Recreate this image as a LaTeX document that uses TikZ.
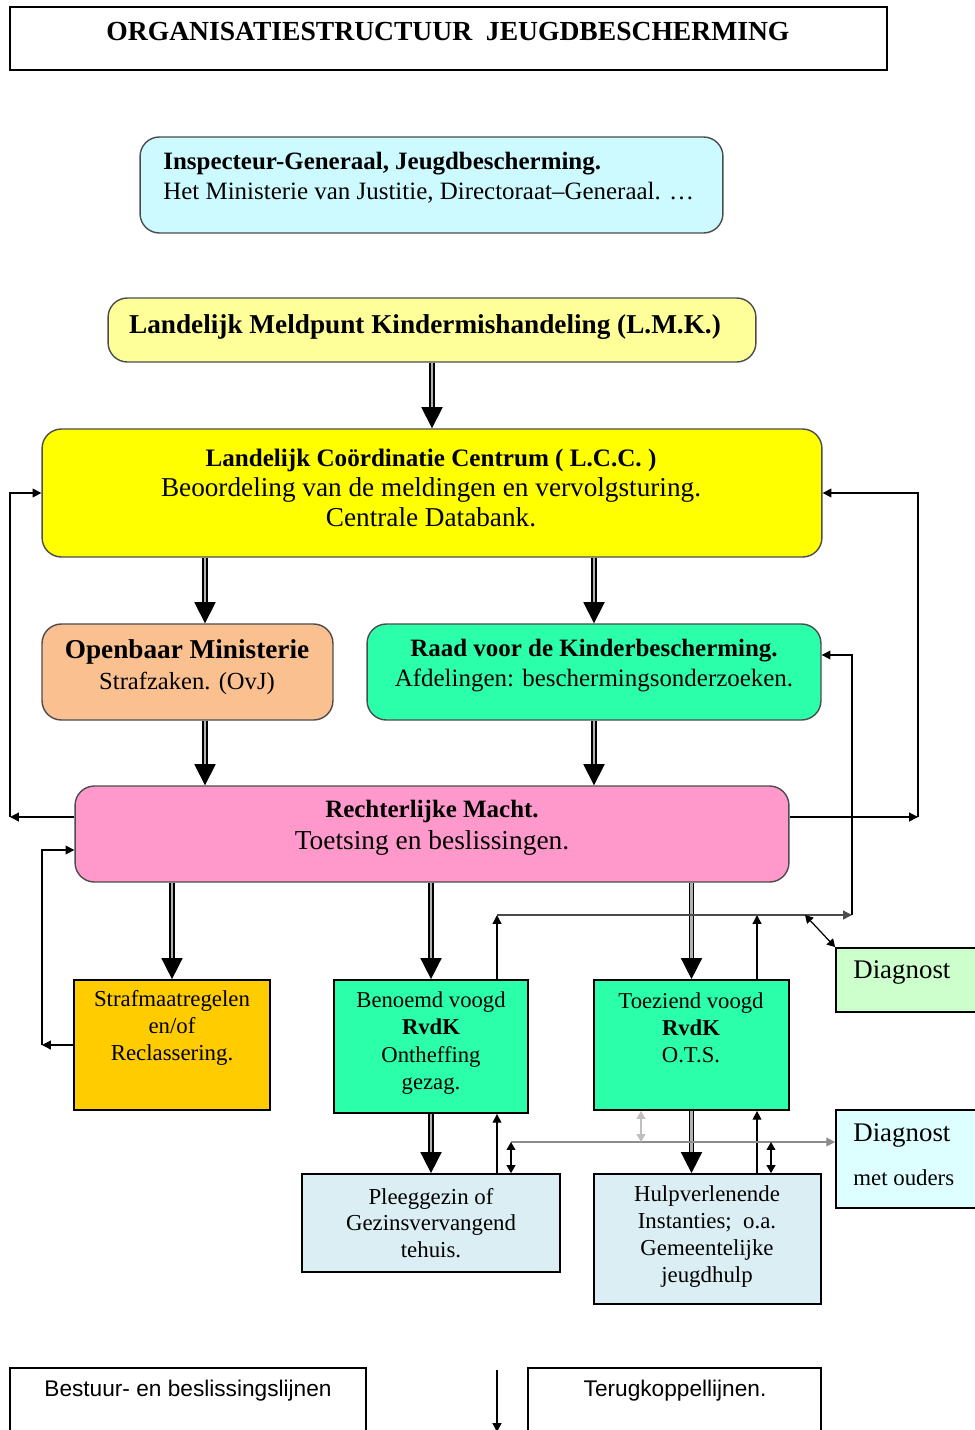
\documentclass[tikz,border=0pt]{standalone}
\usepackage{fontspec}
\setmainfont{Liberation Serif}
\setsansfont{Liberation Sans}
\usepackage{tikz}
\usetikzlibrary{arrows, arrows.meta}

\definecolor{inspblauw}{HTML}{CCFAFF}
\definecolor{lmkgeel}{HTML}{FFFF99}
\definecolor{lccgeel}{HTML}{FFFF00}
\definecolor{omoranje}{HTML}{FAC090}
\definecolor{rvdkgroen}{HTML}{2CFFAA}
\definecolor{rmroze}{HTML}{FF99CC}
\definecolor{strafgeel}{HTML}{FFCC00}
\definecolor{diaggroen}{HTML}{CCFFCC}
\definecolor{diagblauw}{HTML}{DDFFFF}
\definecolor{hulpblauw}{HTML}{DAEEF3}

\tikzset{
  rbox/.style={draw=black!70, line width=0.8pt, rounded corners=11pt, inner sep=0pt},
  sbox/.style={draw=black, line width=1pt, inner sep=0pt},
  txt/.style={inner sep=0pt, align=center},
  hoofd/.style={double=gray!60, double distance=1.3pt, line width=0.9pt,
    -{Triangle[length=12pt,width=12pt]}},
  terug/.style={line width=0.7pt, -{Triangle[length=5pt,width=5pt]}},
  terugd/.style={line width=0.7pt, {Triangle[length=4.5pt,width=5pt]}-{Triangle[length=4.5pt,width=5pt]}},
}

\begin{document}
\begin{tikzpicture}[x=0.02cm, y=-0.02cm]
    \useasboundingbox (0,0) rectangle (974,1430);
    % boxes
    \node[sbox, minimum width=17.54cm, minimum height=1.26cm] (titel) at (448.5,38.5) {};
    \node[rbox, fill=inspblauw, minimum width=11.66cm, minimum height=1.92cm] (insp) at (431.5,185) {};
    \node[rbox, fill=lmkgeel, minimum width=12.96cm, minimum height=1.28cm] (lmk) at (432,330) {};
    \node[rbox, fill=lccgeel, minimum width=15.6cm, minimum height=2.56cm] (lcc) at (432,493) {};
    \node[rbox, fill=omoranje, minimum width=5.82cm, minimum height=1.92cm] (om) at (187.5,672) {};
    \node[rbox, fill=rvdkgroen, minimum width=9.08cm, minimum height=1.92cm] (raad) at (594,672) {};
    \node[rbox, fill=rmroze, minimum width=14.28cm, minimum height=1.92cm] (rm) at (432,834) {};
    \node[sbox, fill=strafgeel, minimum width=3.92cm, minimum height=2.6cm] (straf) at (172,1045) {};
    \node[sbox, fill=rvdkgroen, minimum width=3.88cm, minimum height=2.66cm] (benoemd) at (431,1046.5) {};
    \node[sbox, fill=rvdkgroen, minimum width=3.9cm, minimum height=2.6cm] (toez) at (691.5,1045) {};
    \node[sbox, fill=diaggroen, minimum width=2.88cm, minimum height=1.28cm] (diag) at (908,980) {};
    \node[sbox, fill=diagblauw, minimum width=2.88cm, minimum height=1.96cm] (diagou) at (908,1159) {};
    \node[sbox, fill=hulpblauw, minimum width=5.16cm, minimum height=1.96cm] (pleeg) at (431,1223) {};
    \node[sbox, fill=hulpblauw, minimum width=4.54cm, minimum height=2.6cm] (hulp) at (707.5,1239) {};
    \node[sbox, line width=0.8pt, minimum width=7.12cm, minimum height=1.64cm] (leg1) at (188,1409) {};
    \node[sbox, line width=0.8pt, minimum width=5.86cm, minimum height=1.64cm] (leg2) at (674.5,1409) {};

    % texts
    \node[txt, font=\fontsize{15.7}{18}\selectfont\bfseries] (titel-t) at (448,32) {ORGANISATIESTRUCTUUR\ \ JEUGDBESCHERMING};
    \node[txt, align=left, anchor=west, font=\fontsize{14.2}{17}\selectfont] (insp-t) at (163,178)
      {\textbf{Inspecteur-Generaal, Jeugdbescherming.}\\ Het Ministerie van Justitie, Directoraat–Generaal. …};
    \node[txt, font=\fontsize{15.5}{17}\selectfont\bfseries] (lmk-t) at (425,327) {Landelijk Meldpunt Kindermishandeling (L.M.K.)};
    \node[txt, font=\fontsize{15.5}{17}\selectfont] (lcc-t) at (431,488)
      {{\fontsize{14.3}{17}\selectfont\bfseries Landelijk Coördinatie Centrum ( L.C.C. )}\\ Beoordeling van de meldingen en vervolgsturing.\\ Centrale Databank.};
    \node[txt, font=\fontsize{14}{18}\selectfont] (om-t) at (187,667)
      {{\fontsize{15.5}{18}\selectfont\bfseries Openbaar Ministerie}\\ Strafzaken. (OvJ)};
    \node[txt, font=\fontsize{14.2}{17.5}\selectfont] (raad-t) at (594,665.5)
      {\textbf{Raad voor de Kinderbescherming.}\\ Afdelingen: beschermingsonderzoeken.};
    \node[txt, font=\fontsize{15.6}{18}\selectfont] (rm-t) at (432,828)
      {{\fontsize{14.2}{18}\selectfont\bfseries Rechterlijke Macht.}\\ Toetsing en beslissingen.};
    \node[txt, font=\fontsize{13}{15.5}\selectfont] (straf-t) at (172,1028)
      {Strafmaatregelen\\ en/of\\ Reclassering.};
    \node[txt, font=\fontsize{12.9}{15.7}\selectfont] (benoemd-t) at (431,1043)
      {Benoemd voogd\\ \textbf{RvdK}\\ Ontheffing\\ gezag.};
    \node[txt, font=\fontsize{12.9}{15.5}\selectfont] (toez-t) at (691,1028)
      {Toeziend voogd\\ \textbf{RvdK}\\ O.T.S.};
    \node[txt, font=\fontsize{13}{15}\selectfont] (pleeg-t) at (431,1223)
      {Pleeggezin of\\ Gezinsvervangend\\ tehuis.};
    \node[txt, font=\fontsize{13}{15.2}\selectfont] (hulp-t) at (707,1236.5)
      {Hulpverlenende\\ Instanties;\ \ o.a.\\ Gemeentelijke\\ jeugdhulp};
    \node[txt, anchor=west, font=\fontsize{15.3}{18}\selectfont] (diag-t) at (853,972) {Diagnost};
    \node[txt, anchor=west, font=\fontsize{15.3}{18}\selectfont] (diagou-t) at (853,1135) {Diagnost};
    \node[txt, anchor=west, font=\fontsize{13}{15}\selectfont] (ouders-t) at (853,1178) {met ouders};
    \node[txt, font=\sffamily\fontsize{12.9}{14}\selectfont] (leg1-t) at (188,1391) {Bestuur- en beslissingslijnen};
    \node[txt, font=\sffamily\fontsize{12.9}{14}\selectfont] (leg2-t) at (675,1391) {Terugkoppellijnen.};

    % corner points of the feedback lines
    \coordinate (omx) at (205,0);
    \coordinate (lt) at (10,493);
    \coordinate (lb) at (10,817);
    \coordinate (rt) at (918,493);
    \coordinate (rb) at (918,817);
    \coordinate (sb) at (42,1045);
    \coordinate (st) at (42,850);
    \coordinate (fbl) at (497,915);
    \coordinate (fbm) at (757,915);
    \coordinate (fbr) at (852,915);
    \coordinate (fbt) at (852,655);
    \coordinate (fbd) at (805,915);
    \coordinate (ol) at (511,1142);
    \coordinate (om2) at (641,1142);
    \coordinate (or) at (771,1142);
    \coordinate (pijl-a) at (497,1370);
    \coordinate (pijl-b) at (497,1432);

    % main lines
    \draw[hoofd] (lmk.south) -- (lcc.north);
    \draw[hoofd] (lcc.south -| omx) -- (om.north -| omx);
    \draw[hoofd] (lcc.south -| raad.north) -- (raad.north);
    \draw[hoofd] (om.south -| omx) -- (rm.north -| omx);
    \draw[hoofd] (raad.south) -- (rm.north -| raad.south);
    \draw[hoofd] (rm.south -| straf.north) -- (straf.north);
    \draw[hoofd] (rm.south -| benoemd.north) -- (benoemd.north);
    \draw[hoofd] (rm.south -| toez.north) -- (toez.north);
    \draw[hoofd] (benoemd.south) -- (pleeg.north -| benoemd.south);
    \draw[hoofd] (toez.south) -- (hulp.north -| toez.south);

    % feedback lines
    \draw[terug] (lb -| rm.west) -- (lb);
    \draw[terug] (lb) -- (lt) -- (lt -| lcc.west);
    \draw[terug] (rb -| rm.east) -- (rb);
    \draw[terug] (rb) -- (rt) -- (rt -| lcc.east);
    \draw[terug] (sb -| straf.west) -- (sb);
    \draw[terug] (sb) -- (st) -- (st -| rm.west);
    \draw[terug] (fbl |- benoemd.north) -- (fbl);
    \draw[terug] (fbm |- toez.north) -- (fbm);
    \draw[terug, black!70] (fbl) -- (fbr);
    \draw[terug] (fbr) -- (fbt) -- (fbt -| raad.east);
    \draw[terugd] (fbd) -- (diag.north west);
    \draw[terug] (fbl |- pleeg.north) -- (fbl |- benoemd.south);
    \draw[terug] (fbm |- hulp.north) -- (fbm |- toez.south);
    \draw[terug, black!45] (ol) -- (ol -| diagou.west);
    \draw[terugd] (ol) -- (ol |- pleeg.north);
    \draw[terugd] (or) -- (or |- hulp.north);
    \draw[terugd, black!25] (om2) -- (om2 |- toez.south);
    \draw[terug] (pijl-a) -- (pijl-b);
\end{tikzpicture}
\end{document}
